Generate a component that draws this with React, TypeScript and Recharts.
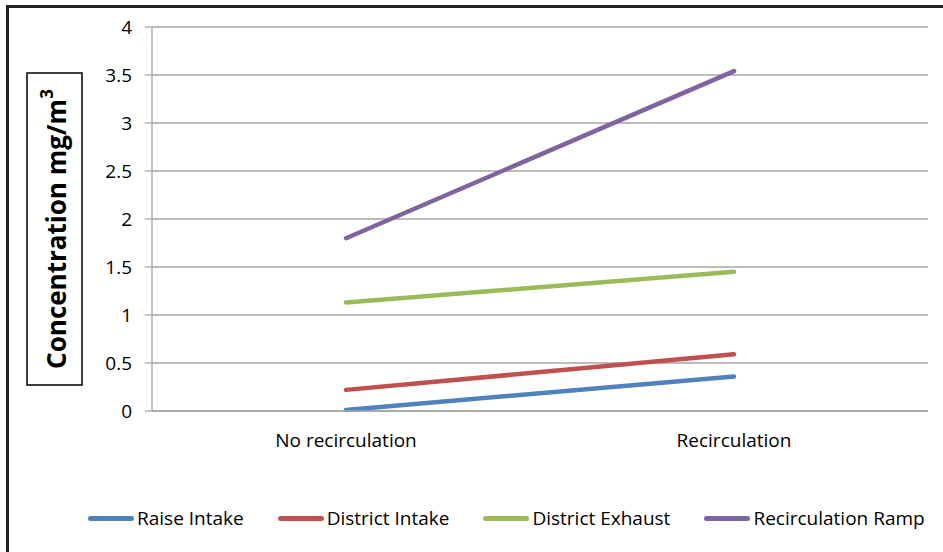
import React from "react";
import { LineChart, Line, XAxis, YAxis, CartesianGrid, Legend } from "recharts";

const categories = ["No recirculation", "Recirculation"];
const raiseIntake = [0.01, 0.36];
const districtIntake = [0.22, 0.59];
const districtExhaust = [1.13, 1.45];
const recirculationRamp = [1.8, 3.54];
const yTicks = [0, 0.5, 1, 1.5, 2, 2.5, 3, 3.5, 4];
const yTickLabels = ["0", "0.5", "1", "1.5", "2", "2.5", "3", "3.5", "4"];
const seriesNames = ["Raise Intake", "District Intake", "District Exhaust", "Recirculation Ramp"];
const seriesKeys = ["raise", "dIntake", "dExhaust", "ramp"];
const seriesColors = ["#4F81BD", "#C0504D", "#9BBB59", "#8064A2"];

const data = categories.map((c, i) => ({
  cat: c,
  raise: raiseIntake[i],
  dIntake: districtIntake[i],
  dExhaust: districtExhaust[i],
  ramp: recirculationRamp[i],
}));

const FONT = "'Open Sans', 'Liberation Sans', sans-serif";
const GRID = "#a6a6a6";

const LegendContent = () => (
  <div
    style={{
      display: "flex",
      alignItems: "center",
      height: 30,
      paddingLeft: 88,
      fontFamily: FONT,
      fontSize: 19,
      color: "#000",
      whiteSpace: "nowrap",
    }}
  >
    {seriesNames.map((n, i) => (
      <div key={n} style={{ display: "flex", alignItems: "center", marginRight: 34 }}>
        <div
          style={{
            width: 46,
            height: 5,
            borderRadius: 2.5,
            background: seriesColors[i],
            marginRight: 3,
          }}
        />
        <span>{n}</span>
      </div>
    ))}
  </div>
);

const YTitle = () => (
  <g>
    <rect x={27} y={73} width={55} height={312} fill="#fff" stroke="#000" strokeWidth={1.5} />
    <text
      x={56}
      y={229}
      transform="rotate(-90 56 229)"
      textAnchor="middle"
      dominantBaseline="central"
      fontFamily={FONT}
      fontWeight="bold"
      fontSize={26}
      fill="#000"
    >
      Concentration mg/m<tspan dy={-10} fontSize={17}>3</tspan>
    </text>
  </g>
);

export default function App() {
  return (
    <div style={{ position: "absolute", left: 0, top: 0, width: 943, height: 552, background: "#fff", overflow: "hidden" }}>
      <div
        style={{
          position: "absolute",
          left: 6,
          top: 5,
          width: 960,
          height: 600,
          borderLeft: "3px solid #222",
          borderTop: "3px solid #222",
          boxSizing: "border-box",
        }}
      />
      <div style={{ position: "absolute", left: 0, top: 0 }}>
        <LineChart
          width={943}
          height={552}
          data={data}
          margin={{ top: 27, right: 15, bottom: 81, left: 92 }}
        >
          <CartesianGrid xAxisId="cat" vertical={false} stroke={GRID} strokeWidth={1.3} />
          <XAxis
            xAxisId="tk"
            type="number"
            domain={[0, 2]}
            ticks={[0, 1, 2]}
            height={0}
            axisLine={false}
            tickLine={{ stroke: GRID, strokeWidth: 1.3 }}
            tickSize={7}
            tick={() => <g />}
          />
          <XAxis
            xAxisId="cat"
            dataKey="cat"
            height={30}
            padding={{ left: 194, right: 194 }}
            axisLine={{ stroke: GRID, strokeWidth: 1.3 }}
            tickLine={false}
            tickMargin={17}
            tick={{ fill: "#000", fontSize: 19, fontFamily: FONT }}
          />
          <YAxis
            width={60}
            domain={[0, 4]}
            ticks={yTicks}
            tickFormatter={(v: number) => yTickLabels[yTicks.indexOf(v)]}
            axisLine={{ stroke: GRID, strokeWidth: 1.3 }}
            tickLine={{ stroke: GRID, strokeWidth: 1.3 }}
            tickSize={7}
            tickMargin={13}
            tick={{ fill: "#000", fontSize: 19, fontFamily: FONT }}
            label={<YTitle />}
          />
          <Legend
            verticalAlign="bottom"
            content={<LegendContent />}
            wrapperStyle={{ left: 0, top: 503, width: 943, height: 30 }}
          />
          {seriesKeys.map((k, i) => (
            <Line
              key={k}
              xAxisId="cat"
              dataKey={k}
              name={seriesNames[i]}
              stroke={seriesColors[i]}
              strokeWidth={4.5}
              strokeLinecap="round"
              dot={false}
              activeDot={false}
              isAnimationActive={false}
            />
          ))}
        </LineChart>
      </div>
    </div>
  );
}
